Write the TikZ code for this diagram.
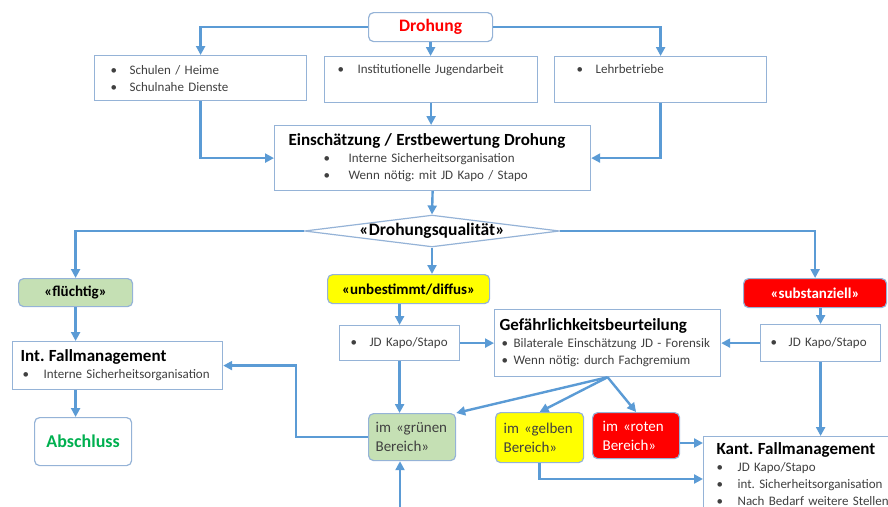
\documentclass[tikz,border=0pt]{standalone}
\usepackage{fontspec}
\setmainfont{Carlito}
\usetikzlibrary{shapes.geometric}
\usetikzlibrary{calc}
\usetikzlibrary{arrows.meta}
\definecolor{lineblue}{HTML}{5B9BD5}
\definecolor{frameblue}{HTML}{95B3D7}
\definecolor{txtgrey}{HTML}{404040}
\definecolor{okgreen}{HTML}{C5E0B4}
\definecolor{warnyellow}{HTML}{FFFF00}
\definecolor{alarmred}{HTML}{FF0000}
\definecolor{donegreen}{HTML}{00B050}
\providecommand*{\blt}[3]{\hspace*{#1pt}\makebox[#2pt][l]{\textbullet}#3}
\providecommand*{\ttl}[1]{{\color{black}\bfseries\fontsize{17}{20}\selectfont #1}}
\frenchspacing

\begin{document}
\begin{tikzpicture}[x = 1pt, y = -1pt,
    frame/.style = {draw = frameblue, line width = 1.2pt, fill = white, anchor = north west, align = left, inner xsep = 0pt, inner ysep = 0pt, text = txtgrey, font = \fontsize{13}{17}\selectfont},
    tag/.style = {draw = frameblue, line width = 1.2pt, rounded corners = 5pt, anchor = north west, inner sep = 0pt, font = \bfseries\fontsize{15}{17}\selectfont},
    zone/.style = {tag, align = left, text = txtgrey, font = \fontsize{15}{19}\selectfont},
    arr/.style = {draw = lineblue, line width = 2.4pt, -{Triangle[length = 9pt, width = 9pt]}}]
    \useasboundingbox[clip] (0,0) rectangle (888,506);

    % top row
    \node (drohung) [tag, minimum width = 124pt, minimum height = 29pt, fill = white, text = alarmred, font = \bfseries\fontsize{17.5}{19}\selectfont] at (368,12) {Drohung};

    \node (schulen) [frame, text width = 212pt, minimum height = 45pt] at (94,55) {\blt{16}{19}{Schulen / Heime}\\\blt{16}{19}{Schulnahe Dienste}};
    \node (inst) [frame, text width = 213pt, minimum height = 46pt] at (324,56) {\blt{13}{20}{Institutionelle Jugendarbeit}\\\strut};
    \node (lehr) [frame, text width = 212pt, minimum height = 46pt] at (554,56) {\blt{22}{19}{Lehrbetriebe}\\\strut};

    \node (einsch) [frame, text width = 316pt, minimum height = 65pt] at (274,125) {\hspace*{14pt}\ttl{Einschätzung / Erstbewertung Drohung}\\\blt{49}{25}{Interne Sicherheitsorganisation}\\\blt{49}{25}{Wenn nötig: mit JD Kapo / Stapo}};

    \node (qual) [diamond, draw = frameblue, line width = 1.2pt, fill = white, aspect = 8, inner xsep = 10pt, inner ysep = -2pt, font = \bfseries\fontsize{17.5}{19}\selectfont] at (432,231) {«Drohungsqualität»};

    % three qualities
    \node (fluecht) [tag, minimum width = 114pt, minimum height = 28pt, fill = okgreen] at (18,278) {«flüchtig»};
    \node (unbest) [tag, minimum width = 162pt, minimum height = 29pt, fill = warnyellow] at (327,274) {«unbestimmt/diffus»};
    \node (subst) [tag, minimum width = 143pt, minimum height = 29pt, fill = alarmred, text = white] at (743,278) {«substanziell»};

    \node (intfm) [frame, text width = 210pt, minimum height = 48pt] at (12,341) {\hspace*{8pt}\ttl{Int. Fallmanagement}\\\blt{10}{21}{Interne Sicherheitsorganisation}};
    \node (abschl) [tag, minimum width = 97pt, minimum height = 48pt, fill = white, text = donegreen, font = \bfseries\fontsize{18}{20}\selectfont] at (34,417) {Abschluss};

    \node (jdl) [frame, text width = 120pt, minimum height = 35pt] at (339,325) {\blt{11}{19}{JD Kapo/Stapo}};
    \node (gefahr) [frame, text width = 226pt, minimum height = 67pt] at (494,309) {\hspace*{5pt}\ttl{Gefährlichkeitsbeurteilung}\\\blt{7}{12}{Bilaterale Einschätzung JD - Forensik}\\\blt{7}{12}{Wenn nötig: durch Fachgremium}};
    \node (jdr) [frame, text width = 120pt, minimum height = 37pt] at (760,324) {\blt{10}{18}{JD Kapo/Stapo}};

    % zones
    \node (gruen) [zone, fill = okgreen, text width = 87pt, minimum height = 47pt] at (368,413) {\hspace*{7pt}im «grünen\\\hspace*{7pt}Bereich»};
    \node (gelb) [zone, fill = warnyellow, text width = 88pt, minimum height = 50pt] at (495,412) {\hspace*{8pt}im «gelben\\\hspace*{8pt}Bereich»};
    \node (rot) [zone, fill = alarmred, text = white, text width = 87pt, minimum height = 46pt] at (592,412) {\hspace*{10pt}im «roten\\\hspace*{10pt}Bereich»};

    \node (kant) [frame, text width = 220pt, inner ysep = 6pt] at (703,436) {\hspace*{13pt}\ttl{Kant. Fallmanagement}\\\blt{13}{21}{JD Kapo/Stapo}\\\blt{13}{21}{int. Sicherheitsorganisation}\\\blt{13}{21}{Nach Bedarf weitere Stellen}\\\strut};

    \coordinate (kantA) at ($(kant.north west)+(0,7)$);
    \coordinate (kantB) at ($(kant.north west)+(0,43)$);
    \coordinate (unten) at (400,520);

    \draw[arr] (drohung.west) -| (schulen.north);
    \draw[arr] (drohung.east) -| (lehr.north);
    \draw[arr] (drohung.south) -- (drohung.south |- inst.north);
    \draw[arr] (schulen.south) |- (einsch.west);
    \draw[arr] (lehr.south) |- (einsch.east);
    \draw[arr] (inst.south) -- (inst.south |- einsch.north);
    \draw[arr] (einsch.south) -- (qual.north);

    \draw[arr] (qual.west) -| (fluecht.north);
    \draw[arr] (qual.east) -| (subst.north);
    \draw[arr] (qual.south) -- (qual.south |- unbest.north);

    \draw[arr] (fluecht.south) -- (fluecht.south |- intfm.north);
    \draw[arr] (intfm.south -| fluecht.south) -- (abschl.north -| fluecht.south);

    \draw[arr] (jdl.north |- unbest.south) -- (jdl.north);
    \draw[arr] (jdl.east) -- (gefahr.west);
    \draw[arr] (jdr.north |- subst.south) -- (jdr.north);
    \draw[arr] (jdr.west) -- (gefahr.east);
    \draw[arr] (jdr.south) -- (jdr.south |- kant.north);
    \draw[arr] (jdl.south) -- (jdl.south |- gruen.north);

    \draw[arr] (gruen.west) -- ++(-72,0) |- (intfm.east);
    \draw[arr] (unten) -- (unten |- gruen.south);

    \draw[arr] (gefahr.south) -- (gruen.north east);
    \draw[arr] (gefahr.south) -- (gelb.north);
    \draw[arr] (gefahr.south) -- (rot.north);

    \draw[arr] (rot.east |- kantA) -- (kantA);
    \draw[arr] (gelb.south) |- (kantB);

\end{tikzpicture}
\end{document}
